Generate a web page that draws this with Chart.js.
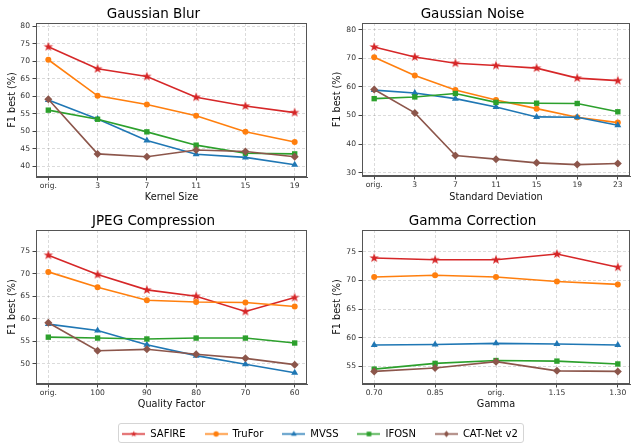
<!DOCTYPE html>
<html>
<head>
<meta charset="utf-8">
<script src="https://cdn.jsdelivr.net/npm/chart.js@4.4.1/dist/chart.umd.min.js"></script>
<style>
  html, body { margin: 0; padding: 0; background: #fff; overflow: hidden; }
  body { width: 631px; height: 445px; position: relative; }
  canvas { position: absolute; }
  #legendBox { position: absolute; left: 118px; top: 423px; width: 404px; height: 18px; border: 1px solid #d5d5d5; border-radius: 3px; }
</style>
</head>
<body>
<canvas id="blur" width="343" height="205" style="left:0px;top:0px"></canvas>
<canvas id="noise" width="362" height="205" style="left:315px;top:0px"></canvas>
<canvas id="jpeg" width="343" height="205" style="left:0px;top:205px"></canvas>
<canvas id="gamma" width="362" height="205" style="left:315px;top:205px"></canvas>
<div id="legendBox"></div>
<canvas id="legend" width="622" height="120" style="left:9px;top:410px"></canvas>
<script>
// methods, in plotting order
const methods = ['SAFIRE', 'TruFor', 'MVSS', 'IFOSN', 'CAT-Net v2'];

// Gaussian Blur
const blurLabels = ['orig.', '3', '7', '11', '15', '19'];
const blurSafire = [74.1, 67.8, 65.6, 59.7, 57.2, 55.3];
const blurTrufor = [70.4, 60.1, 57.6, 54.4, 49.8, 46.9];
const blurMvss = [58.9, 53.5, 47.3, 43.4, 42.5, 40.4];
const blurIfosn = [56.0, 53.4, 49.8, 46.0, 43.7, 43.5];
const blurCatnet = [59.1, 43.5, 42.7, 44.6, 44.2, 42.7];
const blurTicks = [40, 45, 50, 55, 60, 65, 70, 75, 80];

// Gaussian Noise
const noiseLabels = ['orig.', '3', '7', '11', '15', '19', '23'];
const noiseSafire = [74.0, 70.5, 68.3, 67.5, 66.6, 63.1, 62.2];
const noiseTrufor = [70.4, 64.0, 58.9, 55.4, 52.4, 49.4, 47.5];
const noiseMvss = [58.9, 57.9, 55.9, 53.0, 49.5, 49.4, 46.6];
const noiseIfosn = [55.9, 56.5, 57.7, 54.6, 54.3, 54.2, 51.3];
const noiseCatnet = [59.1, 50.9, 36.0, 34.7, 33.4, 32.8, 33.2];
const noiseTicks = [30, 40, 50, 60, 70, 80];

// JPEG Compression
const jpegLabels = ['orig.', '100', '90', '80', '70', '60'];
const jpegSafire = [74.1, 69.8, 66.4, 65.0, 61.6, 64.7];
const jpegTrufor = [70.4, 67.0, 64.1, 63.7, 63.6, 62.7];
const jpegMvss = [58.8, 57.4, 54.2, 51.8, 49.9, 48.0];
const jpegIfosn = [55.9, 55.7, 55.5, 55.7, 55.7, 54.6];
const jpegCatnet = [59.1, 52.9, 53.2, 52.1, 51.2, 49.8];
const jpegTicks = [50, 55, 60, 65, 70, 75];

// Gamma Correction
const gammaLabels = ['0.70', '0.85', 'orig.', '1.15', '1.30'];
const gammaSafire = [73.9, 73.6, 73.6, 74.6, 72.3];
const gammaTrufor = [70.6, 70.9, 70.6, 69.8, 69.3];
const gammaMvss = [58.7, 58.8, 59.0, 58.9, 58.7];
const gammaIfosn = [54.5, 55.5, 56.0, 55.9, 55.4];
const gammaCatnet = [54.1, 54.7, 55.8, 54.2, 54.1];
const gammaTicks = [55, 60, 65, 70, 75];

Chart.defaults.font.family = 'DejaVu Sans';
Chart.defaults.color = '#333';

const colors = ['#d62728', '#ff7f0e', '#1f77b4', '#2ca02c', '#8c564b'];
const shapes = ['star', 'circle', 'triangle', 'rect', 'rectRot'];

// draw a marker by hand (used for the star and for the legend samples)
const drawMarker = (g, shape, x, y, r, color) => {
  g.fillStyle = color;
  g.beginPath();
  if (shape === 'star') {
    for (let k = 0; k < 10; k++) {
      const rr = k % 2 === 0 ? r : r * 0.4;
      const a = -Math.PI / 2 + k * Math.PI / 5;
      g.lineTo(x + rr * Math.cos(a), y + rr * Math.sin(a));
    }
  } else if (shape === 'circle') {
    g.arc(x, y, r * 0.8, 0, Math.PI * 2);
  } else if (shape === 'triangle') {
    g.moveTo(x, y - r);
    g.lineTo(x + r * 0.87, y + r * 0.5);
    g.lineTo(x - r * 0.87, y + r * 0.5);
  } else if (shape === 'rect') {
    g.rect(x - r * 0.7, y - r * 0.7, r * 1.4, r * 1.4);
  } else {
    g.moveTo(x, y - r);
    g.lineTo(x + r * 0.8, y);
    g.lineTo(x, y + r);
    g.lineTo(x - r * 0.8, y);
  }
  g.closePath();
  g.fill();
};

const starImage = (color, r) => {
  const c = document.createElement('canvas');
  const s = Math.ceil(r * 2 + 2);
  c.width = s;
  c.height = s;
  drawMarker(c.getContext('2d'), 'star', s / 2, s / 2, r, color);
  return c;
};

const legendImage = (color, shape) => {
  const c = document.createElement('canvas');
  c.width = 23;
  c.height = 11;
  const g = c.getContext('2d');
  g.strokeStyle = color;
  g.lineWidth = 1.5;
  g.beginPath();
  g.moveTo(0, 5.5);
  g.lineTo(23, 5.5);
  g.stroke();
  drawMarker(g, shape, 11.5, 5.5, 3.3, color);
  return c;
};

// axes frame on top of the lines, like matplotlib spines
const framePlugin = {
  id: 'frame',
  afterDatasetsDraw(chart) {
    const { ctx, chartArea: a } = chart;
    ctx.save();
    ctx.strokeStyle = '#555';
    ctx.lineWidth = 1;
    const l = Math.round(a.left) + 0.5;
    const t = Math.round(a.top) + 0.5;
    const r = Math.round(a.right) - 0.5;
    const b = Math.round(a.bottom) - 0.5;
    ctx.strokeRect(l, t, r - l, b - t);
    ctx.restore();
  },
};

const makePanel = (id, title, xTitle, labels, series, yTicks, yMin, yMax, box) => {
  const margin = (labels.length - 1) * 0.05;
  const datasets = series.map((vals, i) => ({
    label: methods[i],
    data: vals.map((v, j) => ({ x: j, y: v })),
    borderColor: colors[i],
    backgroundColor: colors[i],
    borderWidth: 1.6,
    pointStyle: shapes[i] === 'star' ? starImage(colors[i], 5) : shapes[i],
    pointRadius: shapes[i] === 'circle' ? 3 : shapes[i] === 'rect' ? 3.8 : 4,
    pointBorderWidth: 0,
    pointBackgroundColor: colors[i],
    tension: 0,
    order: series.length - i, // last method drawn on top
  }));

  new Chart(document.getElementById(id), {
    type: 'line',
    data: { datasets },
    plugins: [framePlugin],
    options: {
      responsive: false,
      animation: false,
      devicePixelRatio: 1,
      layout: { padding: { left: 0, right: box.right, top: 0, bottom: 0 } },
      plugins: {
        legend: { display: false },
        tooltip: { enabled: false },
        title: {
          display: true,
          text: title,
          color: '#000',
          font: { size: 13.5, weight: 'normal' },
          padding: { top: box.titleTop, bottom: 0.9 },
        },
      },
      scales: {
        x: {
          type: 'linear',
          min: -margin,
          max: labels.length - 1 + margin,
          afterBuildTicks: (scale) => {
            scale.ticks = labels.map((_, i) => ({ value: i }));
          },
          afterFit: (scale) => {
            scale.height = box.xHeight;
          },
          ticks: {
            callback: (v) => labels[v],
            autoSkip: false,
            maxRotation: 0,
            font: { size: 7.6 },
            padding: 1,
          },
          grid: { color: 'rgba(0,0,0,0.14)', tickColor: '#444', tickLength: 3.5 },
          border: { color: '#555', dash: [3, 2] },
          title: {
            display: true,
            text: xTitle,
            color: '#111',
            font: { size: 9.7 },
            padding: { top: 0, bottom: box.xTitlePad },
          },
        },
        y: {
          min: yMin,
          max: yMax,
          afterBuildTicks: (scale) => {
            scale.ticks = yTicks.map((v) => ({ value: v }));
          },
          afterFit: (scale) => {
            scale.width = box.yWidth;
          },
          ticks: { font: { size: 7.6 }, padding: 2.5 },
          grid: { color: 'rgba(0,0,0,0.14)', tickColor: '#444', tickLength: 3.5 },
          border: { color: '#555', dash: [3, 2] },
          title: {
            display: true,
            text: 'F1 best (%)',
            color: '#111',
            font: { size: 9.7 },
            padding: { top: box.yTitlePad, bottom: 0 },
          },
        },
      },
    },
  });
};

const leftBox = { right: 36, yWidth: 36, yTitlePad: 6.9 };
const rightBox = { right: 47, yWidth: 47, yTitlePad: 16.9 };

makePanel('blur', 'Gaussian Blur', 'Kernel Size', blurLabels,
  [blurSafire, blurTrufor, blurMvss, blurIfosn, blurCatnet], blurTicks, 36.9, 80.9,
  { ...leftBox, titleTop: 5.9, xHeight: 28, xTitlePad: 2.2 });
makePanel('noise', 'Gaussian Noise', 'Standard Deviation', noiseLabels,
  [noiseSafire, noiseTrufor, noiseMvss, noiseIfosn, noiseCatnet], noiseTicks, 28.8, 82.4,
  { ...rightBox, titleTop: 5.9, xHeight: 29, xTitlePad: 2.2 });
makePanel('jpeg', 'JPEG Compression', 'Quality Factor', jpegLabels,
  [jpegSafire, jpegTrufor, jpegMvss, jpegIfosn, jpegCatnet], jpegTicks, 45.5, 79.7,
  { ...leftBox, titleTop: 7.9, xHeight: 26, xTitlePad: 0 });
makePanel('gamma', 'Gamma Correction', 'Gamma', gammaLabels,
  [gammaSafire, gammaTrufor, gammaMvss, gammaIfosn, gammaCatnet], gammaTicks, 51.9, 78.8,
  { ...rightBox, titleTop: 7.9, xHeight: 26, xTitlePad: 0 });

// shared legend under the four panels
new Chart(document.getElementById('legend'), {
  type: 'line',
  data: { datasets: methods.map((m) => ({ label: m, data: [] })) },
  options: {
    responsive: false,
    animation: false,
    devicePixelRatio: 1,
    scales: { x: { display: false }, y: { display: false } },
    plugins: {
      tooltip: { enabled: false },
      legend: {
        position: 'top',
        maxHeight: 80,
        labels: {
          usePointStyle: true,
          pointStyleWidth: 23,
          padding: 19,
          color: '#222',
          font: { size: 10 },
          generateLabels: () => methods.map((m, i) => ({
            text: m,
            pointStyle: legendImage(colors[i], shapes[i]),
            fillStyle: colors[i],
            strokeStyle: colors[i],
            lineWidth: 0,
            hidden: false,
            datasetIndex: i,
          })),
        },
      },
    },
  },
});
</script>
</body>
</html>
